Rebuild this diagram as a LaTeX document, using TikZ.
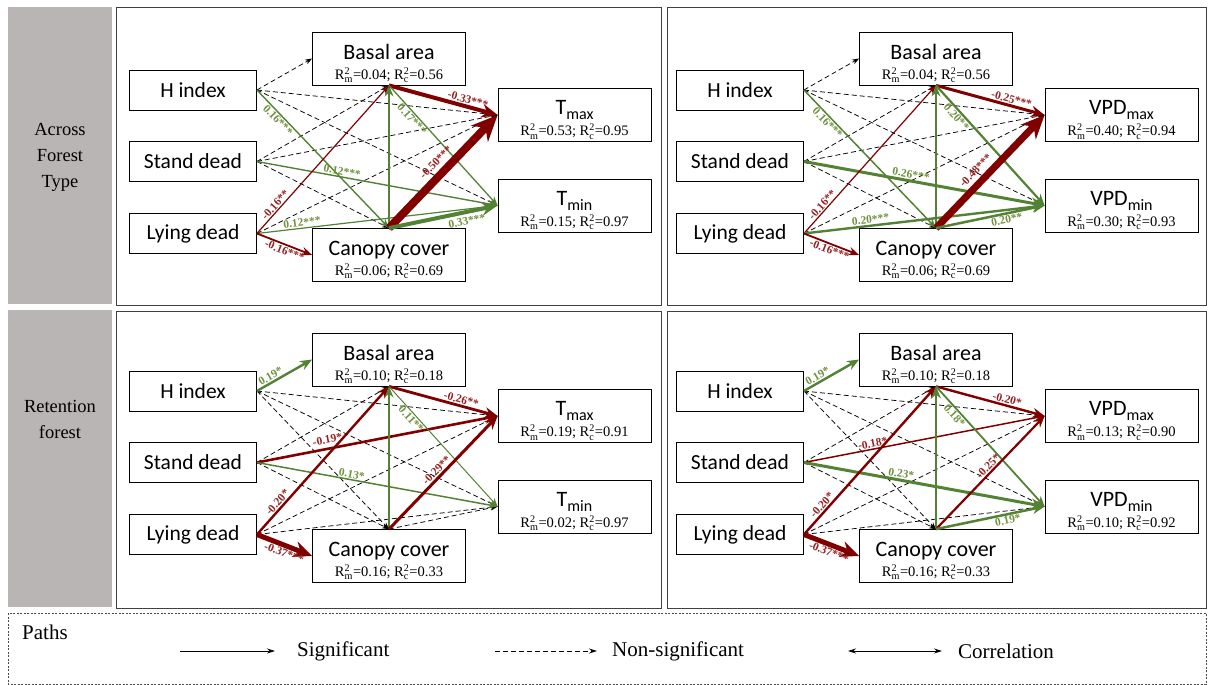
\documentclass[tikz,border=0pt]{standalone}
\usepackage{fontspec}
\setmainfont{Liberation Serif}
\newfontfamily\boxfont{Carlito}
\usetikzlibrary{arrows.meta,positioning}

\definecolor{sigred}{RGB}{128,0,0}
\definecolor{siggreen}{RGB}{84,130,53}
\definecolor{redlbl}{RGB}{150,35,35}
\definecolor{greenlbl}{RGB}{112,145,62}
\definecolor{sidegray}{RGB}{185,181,181}

% R^2 with stacked index
\newcommand{\rsq}[1]{$\mathrm{R}^{\mathrm{2}}_{\mathrm{#1}}$}
\newcommand{\fitline}[2]{{\rmfamily\fontsize{14.5}{15}\selectfont\rsq{m}=#1; \rsq{c}=#2}}
\newcommand{\lowtxt}[1]{\raisebox{-0.22em}{\fontsize{16}{16}\selectfont #1}}

\tikzset{
  pred/.style={draw, fill=white, line width=0.8pt, minimum width=127pt,
    minimum height=40pt, inner sep=0pt, font=\boxfont\fontsize{21.5}{22}\selectfont},
  resp/.style={draw, fill=white, line width=0.8pt, minimum width=153pt,
    minimum height=53pt, inner sep=0pt},
  resptxt/.style={align=center, inner sep=0pt, yshift=-5pt,
    font=\boxfont\fontsize{22}{22}\selectfont},
  nsedge/.style={dash pattern=on 5pt off 3pt, line width=0.75pt, black,
    -{Stealth[length=7pt,width=5pt]}},
  posedge/.style={siggreen, line width=#1, -{Stealth[length=6pt 2.5,width=4pt 2.4]}},
  negedge/.style={sigred, line width=#1, -{Stealth[length=6pt 2.5,width=4pt 2.4]}},
  lbl/.style={sloped, inner sep=1pt, font=\bfseries\fontsize{11.5}{12}\selectfont},
  glbl/.style={lbl, text=greenlbl},
  rlbl/.style={lbl, text=redlbl},
  frame/.style={draw=black!75, line width=0.9pt},
  side/.style={align=center, font=\fontsize{18.5}{26}\selectfont},
  legtxt/.style={font=\fontsize{21}{22}\selectfont, inner sep=0pt},
  legarrow/.style={line width=0.8pt, -{Stealth[length=8pt,width=5pt]}},
}

\begin{document}
\begin{tikzpicture}[x=1pt,y=-1pt]
  \useasboundingbox (0,0) rectangle (1208,685);

  % side labels
  \fill[sidegray] (8,7) rectangle (112,304);
  \node[side] (toplabel) at (60,157) {Across\\Forest\\Type};
  \fill[sidegray] (8,310) rectangle (112,607);
  \node[side] (botlabel) at (60,419) {Retention\\forest};

  % panel frames
  \draw[frame] (116,7) rectangle (661,305);
  \draw[frame] (667,7) rectangle (1206,305);
  \draw[frame] (116,311) rectangle (661,608);
  \draw[frame] (667,311) rectangle (1206,608);

  % ---- across forest type, temperature
  \begin{scope}[name prefix=a-]
    \foreach \nm/\txt/\yy in {hidx/H index/90, stand/Stand dead/161.5, lying/Lying dead/233.5}
      \node[pred] (\nm) at (193,\yy) {\txt};
    \node[resp] (basal) at (389,58.5) {};
    \node[resptxt] (basaltxt) at (basal) {Basal area\\[-2pt]\fitline{0.04}{0.56}};
    \node[resp] (canopy) at (389,255) {};
    \node[resptxt] (canopytxt) at (canopy) {Canopy cover\\[-2pt]\fitline{0.06}{0.69}};
    \node[resp] (rmax) at (574.5,115) {};
    \node[resptxt] (rmaxtxt) at (rmax) {T\lowtxt{max}\\[-1pt]\fitline{0.53}{0.95}};
    \node[resp] (rmin) at (574.5,205.5) {};
    \node[resptxt] (rmintxt) at (rmin) {T\lowtxt{min}\\[-1pt]\fitline{0.15}{0.97}};

    % non-significant paths
    \foreach \a/\b in {hidx/basal.west, hidx/rmax.west, hidx/rmin.west,
        stand/basal.south, stand/rmax.west, stand/canopy.north, lying/rmax.west}
      \draw[nsedge] (\a.east) -- (\b);

    % significant paths
    \draw[posedge=1.4pt] (hidx.east) -- node[glbl, pos=0.19, below] {0.16***} (canopy.north);
    \draw[posedge=1.4pt] (stand.east) -- node[glbl, pos=0.35, above] {0.12***} (rmin.west);
    \draw[negedge=1.2pt] (lying.east) -- node[rlbl, pos=0.17, above] {-0.16**} (basal.south);
    \draw[posedge=1.2pt] (lying.east) -- node[glbl, pos=0.19, above] {0.12***} (rmin.west);
    \draw[negedge=1.8pt] (lying.east) -- node[rlbl, pos=0.54, below] {-0.16***} (canopy.west);
    \draw[posedge=2pt] (canopy.north) -- (basal.south);
    \draw[negedge=4pt] (basal.south) -- node[rlbl, pos=0.71, above] {-0.33***} (rmax.west);
    \draw[posedge=1.3pt] (basal.south) -- node[glbl, pos=0.25, below] {0.17***} (rmin.west);
    \draw[negedge=8pt] (canopy.north) -- node[rlbl, pos=0.51, above=3pt] {-0.50***} (rmax.west);
    \draw[posedge=4pt] (canopy.north) -- node[glbl, pos=0.70, below=2pt] {0.33***} (rmin.west);
  \end{scope}

  % ---- across forest type, VPD
  \begin{scope}[shift={(547,0)}, name prefix=b-]
    \foreach \nm/\txt/\yy in {hidx/H index/90, stand/Stand dead/161.5, lying/Lying dead/233.5}
      \node[pred] (\nm) at (193,\yy) {\txt};
    \node[resp] (basal) at (389,58.5) {};
    \node[resptxt] (basaltxt) at (basal) {Basal area\\[-2pt]\fitline{0.04}{0.56}};
    \node[resp] (canopy) at (389,255) {};
    \node[resptxt] (canopytxt) at (canopy) {Canopy cover\\[-2pt]\fitline{0.06}{0.69}};
    \node[resp] (rmax) at (574.5,115) {};
    \node[resptxt] (rmaxtxt) at (rmax) {VPD\lowtxt{max}\\[-1pt]\fitline{0.40}{0.94}};
    \node[resp] (rmin) at (574.5,205.5) {};
    \node[resptxt] (rmintxt) at (rmin) {VPD\lowtxt{min}\\[-1pt]\fitline{0.30}{0.93}};

    \foreach \a/\b in {hidx/basal.west, hidx/rmax.west, hidx/rmin.west,
        stand/basal.south, stand/rmax.west, stand/canopy.north, lying/rmax.west}
      \draw[nsedge] (\a.east) -- (\b);

    \draw[posedge=1.5pt] (hidx.east) -- node[glbl, pos=0.21, below] {0.16***} (canopy.north);
    \draw[posedge=3pt] (stand.east) -- node[glbl, pos=0.44, above] {0.26***} (rmin.west);
    \draw[negedge=1.2pt] (lying.east) -- node[rlbl, pos=0.17, above] {-0.16**} (basal.south);
    \draw[posedge=2.4pt] (lying.east) -- node[glbl, pos=0.28, above] {0.20***} (rmin.west);
    \draw[negedge=1.8pt] (lying.east) -- node[rlbl, pos=0.5, below] {-0.16***} (canopy.west);
    \draw[posedge=2pt] (canopy.north) -- (basal.south);
    \draw[negedge=3pt] (basal.south) -- node[rlbl, pos=0.68, above] {-0.25***} (rmax.west);
    \draw[posedge=2.2pt] (basal.south) -- node[glbl, pos=0.23, below] {0.20**} (rmin.west);
    \draw[negedge=7pt] (canopy.north) -- node[rlbl, pos=0.44, above=3pt] {-0.48***} (rmax.west);
    \draw[posedge=2.5pt] (canopy.north) -- node[glbl, pos=0.64, below] {0.20**} (rmin.west);
  \end{scope}

  % ---- retention forest, temperature
  \begin{scope}[shift={(0,301)}, name prefix=c-]
    \foreach \nm/\txt/\yy in {hidx/H index/90, stand/Stand dead/161.5, lying/Lying dead/233.5}
      \node[pred] (\nm) at (193,\yy) {\txt};
    \node[resp] (basal) at (389,58.5) {};
    \node[resptxt] (basaltxt) at (basal) {Basal area\\[-2pt]\fitline{0.10}{0.18}};
    \node[resp] (canopy) at (389,255) {};
    \node[resptxt] (canopytxt) at (canopy) {Canopy cover\\[-2pt]\fitline{0.16}{0.33}};
    \node[resp] (rmax) at (574.5,115) {};
    \node[resptxt] (rmaxtxt) at (rmax) {T\lowtxt{max}\\[-1pt]\fitline{0.19}{0.91}};
    \node[resp] (rmin) at (574.5,205.5) {};
    \node[resptxt] (rmintxt) at (rmin) {T\lowtxt{min}\\[-1pt]\fitline{0.02}{0.97}};

    \foreach \a/\b in {hidx/rmax.west, hidx/rmin.west, hidx/canopy.north,
        stand/basal.south, stand/canopy.north, lying/rmax.west, lying/rmin.west}
      \draw[nsedge] (\a.east) -- (\b);
    \draw[nsedge] (canopy.north) -- (rmin.west);

    \draw[posedge=2.4pt] (hidx.east) -- node[glbl, pos=0.3, above] {0.19*} (basal.west);
    \draw[negedge=2.6pt] (stand.east) -- node[rlbl, pos=0.30, above=3pt] {-0.19*} (rmax.west);
    \draw[posedge=1.5pt] (stand.east) -- node[glbl, pos=0.39, above] {0.13*} (rmin.west);
    \draw[negedge=2.4pt] (lying.east) -- node[rlbl, pos=0.19, above] {-0.20*} (basal.south);
    \draw[negedge=5pt] (lying.east) -- node[rlbl, pos=0.54, below] {-0.37***} (canopy.west);
    \draw[posedge=2pt] (canopy.north) -- (basal.south);
    \draw[negedge=2.8pt] (basal.south) -- node[rlbl, pos=0.65, above] {-0.26**} (rmax.west);
    \draw[posedge=1pt] (basal.south) -- node[glbl, pos=0.24, below] {0.11**} (rmin.west);
    \draw[negedge=3pt] (canopy.north) -- node[rlbl, pos=0.48, above] {-0.29**} (rmax.west);
  \end{scope}

  % ---- retention forest, VPD
  \begin{scope}[shift={(547,301)}, name prefix=d-]
    \foreach \nm/\txt/\yy in {hidx/H index/90, stand/Stand dead/161.5, lying/Lying dead/233.5}
      \node[pred] (\nm) at (193,\yy) {\txt};
    \node[resp] (basal) at (389,58.5) {};
    \node[resptxt] (basaltxt) at (basal) {Basal area\\[-2pt]\fitline{0.10}{0.18}};
    \node[resp] (canopy) at (389,255) {};
    \node[resptxt] (canopytxt) at (canopy) {Canopy cover\\[-2pt]\fitline{0.16}{0.33}};
    \node[resp] (rmax) at (574.5,115) {};
    \node[resptxt] (rmaxtxt) at (rmax) {VPD\lowtxt{max}\\[-1pt]\fitline{0.13}{0.90}};
    \node[resp] (rmin) at (574.5,205.5) {};
    \node[resptxt] (rmintxt) at (rmin) {VPD\lowtxt{min}\\[-1pt]\fitline{0.10}{0.92}};

    \foreach \a/\b in {hidx/rmax.west, hidx/rmin.west, hidx/canopy.north,
        stand/basal.south, stand/canopy.north, lying/rmax.west, lying/rmin.west}
      \draw[nsedge] (\a.east) -- (\b);

    \draw[posedge=2.4pt] (hidx.east) -- node[glbl, pos=0.3, above] {0.19*} (basal.west);
    \draw[negedge=1.5pt] (stand.east) -- node[rlbl, pos=0.29, above] {-0.18*} (rmax.west);
    \draw[posedge=3pt] (stand.east) -- node[glbl, pos=0.40, above] {0.23*} (rmin.west);
    \draw[negedge=2.4pt] (lying.east) -- node[rlbl, pos=0.17, above] {-0.20*} (basal.south);
    \draw[negedge=5pt] (lying.east) -- node[rlbl, pos=0.5, below] {-0.37***} (canopy.west);
    \draw[posedge=2.4pt] (canopy.north) -- (basal.south);
    \draw[negedge=2.4pt] (basal.south) -- node[rlbl, pos=0.64, above] {-0.20*} (rmax.west);
    \draw[posedge=1.8pt] (basal.south) -- node[glbl, pos=0.21, below] {0.18*} (rmin.west);
    \draw[negedge=2.2pt] (canopy.north) -- node[rlbl, pos=0.52, above] {-0.25*} (rmax.west);
    \draw[posedge=2.5pt] (canopy.north) -- node[glbl, pos=0.65, below] {0.19*} (rmin.west);
  \end{scope}

  % legend
  \draw[dash pattern=on 2pt off 1.5pt, line width=0.8pt, black!70] (8,613) rectangle (1206,684);
  \node[legtxt, anchor=west] (paths) at (22,632) {Paths};
  \coordinate (sigA) at (180,651);
  \coordinate (sigB) at (275,651);
  \draw[legarrow] (sigA) -- (sigB);
  \node[legtxt, anchor=west] (sig) at (297,651) {Significant};
  \coordinate (nsA) at (495,651);
  \coordinate (nsB) at (597,651);
  \draw[legarrow, dash pattern=on 5pt off 3pt] (nsA) -- (nsB);
  \node[legtxt, anchor=west] (nonsig) at (612,651) {Non-significant};
  \coordinate (corA) at (848,651);
  \coordinate (corB) at (942,651);
  \draw[legarrow, {Stealth[length=8pt,width=5pt]}-{Stealth[length=8pt,width=5pt]}] (corA) -- (corB);
  \node[legtxt, anchor=west] (corr) at (958,651) {Correlation};
\end{tikzpicture}
\end{document}
